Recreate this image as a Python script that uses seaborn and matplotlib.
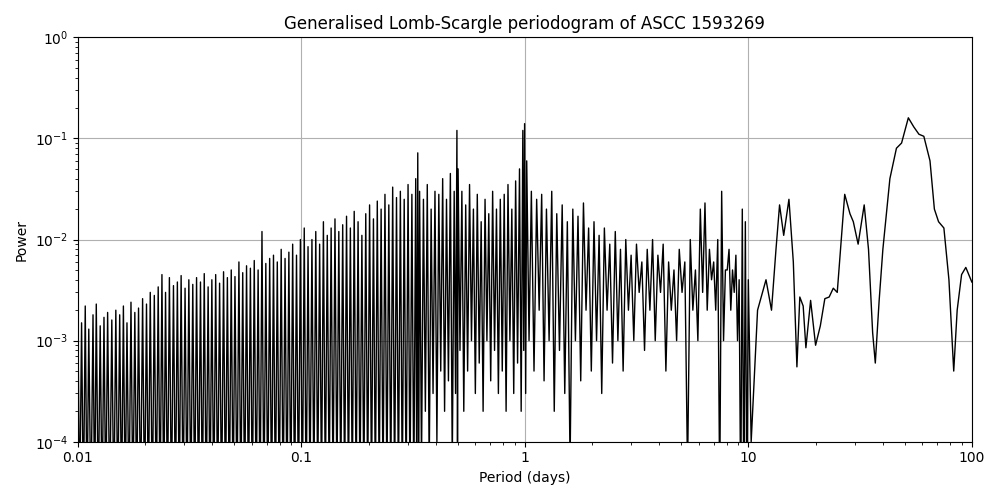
import numpy as np
import matplotlib
matplotlib.use("Agg")
import matplotlib.pyplot as plt
import seaborn as sns

# Dense part: alternating peak / trough readings (period in days, power)
peak_period = [0.0100,0.0104,0.0108,0.0112,0.0117,0.0121,0.0126,0.0131,0.0136,0.0142,0.0148,0.0154,0.0160,0.0166,0.0173,0.0180,0.0187,0.0195,0.0203,0.0211,
0.0220,0.0229,0.0238,0.0247,0.0257,0.0268,0.0279,0.0290,0.0302,0.0314,0.0327,0.0340,0.0354,0.0368,0.0383,0.0398,0.0414,0.0431,0.0449,0.0467,
0.0486,0.0505,0.0526,0.0547,0.0569,0.0592,0.0616,0.0641,0.0667,0.0694,0.0722,0.0751,0.0781,0.0813,0.0846,0.0880,0.0915,0.0952,0.0991,0.1031,
0.1072,0.1116,0.1161,0.1208,0.1256,0.1307,0.1360,0.1415,0.1472,0.1532,0.1594,0.1658,0.1725,0.1795,0.1867,0.1943,0.2021,0.2103,0.2188,0.2276,
0.2368,0.2464,0.2564,0.2667,0.2775,0.2887,0.3004,0.3125,0.3251,0.3320,0.3383,0.3520,0.3662,0.3810,0.3964,0.4124,0.4291,0.4464,0.4645,0.4832,
0.4970,0.5030,0.5230,0.5440,0.5660,0.5890,0.6130,0.6380,0.6640,0.6900,0.7180,0.7470,0.7770,0.8090,0.8410,0.8750,0.9100,0.9470,0.9800,0.9980,
1.0200,1.0700,1.1300,1.1900,1.2500,1.3200,1.3900,1.4700,1.5500,1.6400,1.7300,1.8300,1.9300,2.0400,2.1500,2.2700,2.4000,2.5400,2.6800,2.8300,
2.9900,3.1600,3.3400,3.5300,3.7300,3.9400,4.1600,4.4000,4.6500,4.9100,5.2000,5.5000,5.8000,6.1000,6.4000,6.7000,7.0000,7.3000,7.6000,7.9000,
8.2000,8.5000,8.8000,9.1000,9.4000,9.7000,10.000]
peak_power = [0.0020,0.0015,0.0022,0.0013,0.0018,0.0023,0.0014,0.0017,0.0019,0.0016,0.0020,0.0018,0.0022,0.0015,0.0024,0.0019,0.0021,0.0026,0.0023,0.0030,
0.0028,0.0034,0.0045,0.0030,0.0042,0.0035,0.0038,0.0044,0.0033,0.0040,0.0036,0.0042,0.0038,0.0046,0.0034,0.0040,0.0045,0.0037,0.0048,0.0042,
0.0050,0.0043,0.0060,0.0047,0.0055,0.0052,0.0062,0.0050,0.0120,0.0058,0.0065,0.0070,0.0060,0.0080,0.0065,0.0075,0.0090,0.0070,0.0100,0.0130,
0.0085,0.0100,0.0120,0.0090,0.0150,0.0110,0.0130,0.0160,0.0120,0.0140,0.0170,0.0130,0.0190,0.0150,0.0110,0.0180,0.0220,0.0160,0.0240,0.0200,
0.0280,0.0220,0.0330,0.0260,0.0300,0.0250,0.0350,0.0280,0.0400,0.0720,0.0300,0.0250,0.0350,0.0200,0.0300,0.0280,0.0400,0.0250,0.0450,0.0300,
0.1200,0.0500,0.0300,0.0220,0.0350,0.0200,0.0280,0.0150,0.0250,0.0180,0.0300,0.0200,0.0250,0.0280,0.0350,0.0200,0.0380,0.0500,0.1200,0.1400,
0.0600,0.0300,0.0250,0.0280,0.0200,0.0300,0.0180,0.0220,0.0150,0.0200,0.0170,0.0230,0.0130,0.0150,0.0110,0.0130,0.0090,0.0120,0.0080,0.0100,
0.0070,0.0090,0.0060,0.0080,0.0100,0.0070,0.0090,0.0060,0.0050,0.0080,0.0060,0.0100,0.0050,0.0200,0.0230,0.0080,0.0060,0.0100,0.0300,0.0050,
0.0080,0.0050,0.0070,0.0040,0.0200,0.0150,0.0040]
trough_power = [2e-5]*60 + [3e-5]*30 + [6e-5,2e-4,5e-5,3e-4,1e-4,5e-4,2e-4,4e-4,6e-5,3e-4,1e-4,8e-4,2e-4,5e-4,1e-3,3e-4,6e-4,2e-4,1e-3,4e-4,
8e-4,3e-4,5e-4,2e-4,1e-3,3e-4,6e-4,2e-4,8e-4,3e-4,1e-3,5e-4,2e-3,4e-4,1e-3,2e-4,8e-4,3e-4,6e-5,1e-3,4e-4,2e-3,5e-4,1e-3,3e-4,2e-3,6e-4,1e-3,
5e-4,2e-3,1e-3,3e-3,8e-4,2e-3,1e-3,3e-3,5e-4,2e-3,1e-3,3e-3,5e-5,2e-3,1e-3,3e-3,2e-3,4e-3,2e-3,3e-5,1e-3,5e-3,2e-3,3e-3,1e-3]
# Smooth long-period part
smooth_period = [10.3,11.0,12.0,12.7,13.3,13.8,14.4,15.2,15.9,16.5,17.0,17.6,18.1,19.0,20.0,21.0,22.0,23.0,24.0,25.0,27.0,28.5,29.5,31.0,33.0,34.5,
36.0,37.0,38.5,40.0,43.0,46.0,48.5,52.0,55.0,58.0,61.0,65.0,68.0,71.0,75.0,79.0,83.0,86.0,90.0,94.0,100.0]
smooth_power = [1e-4,2e-3,4e-3,2e-3,8e-3,0.022,0.011,0.025,0.006,5.5e-4,0.0027,0.0022,8.5e-4,0.0025,9e-4,0.0014,0.0026,0.0027,0.0033,0.003,0.028,0.018,0.015,0.009,0.022,0.008,
0.0012,6e-4,0.0025,0.008,0.04,0.08,0.09,0.16,0.13,0.11,0.105,0.06,0.02,0.015,0.013,0.004,5e-4,0.002,0.0045,0.0053,0.0038]

x, y = [], []
for p, pw, tr, nxt in zip(peak_period, peak_power, trough_power + [2e-5]*200, peak_period[1:] + [10.3]):
    x += [p, np.sqrt(p * nxt)]
    y += [pw, tr]
x = x[:-1] + smooth_period
y = y[:-1] + smooth_power

fig, ax = plt.subplots(figsize=(10, 5), dpi=100)
sns.lineplot(x=x, y=y, ax=ax, color="black", linewidth=1, sort=False, estimator=None)
ax.set_xscale("log"); ax.set_yscale("log")
ax.set_xlim(0.01, 100); ax.set_ylim(1e-4, 1)
ax.set_xticks([0.01, 0.1, 1, 10, 100]); ax.set_xticklabels(["0.01", "0.1", "1", "10", "100"])
ax.grid(True, which="major", color="#b0b0b0", linewidth=0.8)
ax.set_xlabel("Period (days)"); ax.set_ylabel("Power")
ax.set_title("Generalised Lomb-Scargle periodogram of ASCC 1593269")
fig.tight_layout()
fig.savefig("out.png")
